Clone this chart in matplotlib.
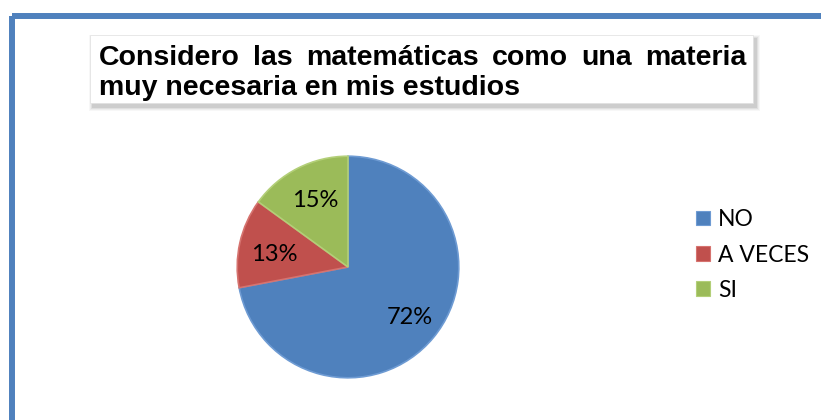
import matplotlib.pyplot as plt
from matplotlib.patches import Rectangle, Patch

# datos del grafico
categorias = ['NO', 'A VECES', 'SI']
porcentajes = [72, 13, 15]
colores = ['#4F81BD', '#C0504D', '#9BBB59']
bordes = ['#6E9BD3', '#D6736F', '#B3CF78']
titulo_1 = 'Considero las matemáticas como una materia'
titulo_2 = 'muy necesaria en mis estudios'

W, H = 821, 420
fig = plt.figure(figsize=(W / 100, H / 100), dpi=100)

# fondo en coordenadas de pixel
bg = fig.add_axes([0, 0, 1, 1])
bg.set_xlim(0, W)
bg.set_ylim(H, 0)
bg.axis('off')

# marco azul (se sale por la derecha y abajo)
bg.add_patch(Rectangle((12, 15.5), 840, 440, fill=False, ec='#4F81BD', lw=4.3))

# caja del titulo con sombra
for i, a in enumerate([0.06, 0.08, 0.12, 0.18]):
    d = 4 - i
    bg.add_patch(Rectangle((90 - d + 3, 35 - d + 4), 663 + 2 * d, 68 + 2 * d,
                           fc='#7F7F7F', ec='none', alpha=a))
bg.add_patch(Rectangle((90, 35), 663, 68, fc='white', ec='#E0E0E0', lw=0.5))

tfont = dict(family='Liberation Sans', fontweight='bold', fontsize=20.5, color='black')

# primera linea justificada
renderer = fig.canvas.get_renderer()
palabras = titulo_1.split()
x0, x1 = 99, 746
objs = [bg.text(0, 65, p, ha='left', va='baseline', **tfont) for p in palabras]
anchos = [t.get_window_extent(renderer).width for t in objs]
hueco = (x1 - x0 - sum(anchos)) / (len(palabras) - 1)
x = x0
for t, w in zip(objs, anchos):
    t.set_x(x)
    x += w + hueco
bg.text(x0, 95, titulo_2, ha='left', va='baseline', **tfont)

# pastel
cx, cy, r = 348, 267, 113
ax = fig.add_axes([(cx - r) / W, (H - cy - r) / H, 2 * r / W, 2 * r / H])
wedges, textos, autotextos = ax.pie(porcentajes, colors=colores, startangle=90,
                                    counterclock=False, autopct='%d%%', pctdistance=0.72,
                                    wedgeprops=dict(linewidth=1.2),
                                    textprops=dict(family='Lato', fontsize=17, color='black'))
for w, b in zip(wedges, bordes):
    w.set_edgecolor(b)
ax.set_xlim(-1.02, 1.02)
ax.set_ylim(-1.02, 1.02)
ax.set_aspect('equal')

# ajuste de las etiquetas como en Excel
autotextos[1].set_position((-0.67, 0.11))
autotextos[2].set_position((-0.30, 0.60))

# leyenda
handles = [Patch(fc=c, ec=b, lw=0.8) for c, b in zip(colores, bordes)]
fig.legend(handles, categorias, loc='center left', bbox_to_anchor=(696 / W, 1 - 255 / H),
           frameon=False, prop=dict(family='Lato', size=16.5), handlelength=0.6,
           handleheight=0.6, handletextpad=0.35, labelspacing=0.62, borderpad=0,
           borderaxespad=0)

fig.savefig('out.png', dpi=100)
